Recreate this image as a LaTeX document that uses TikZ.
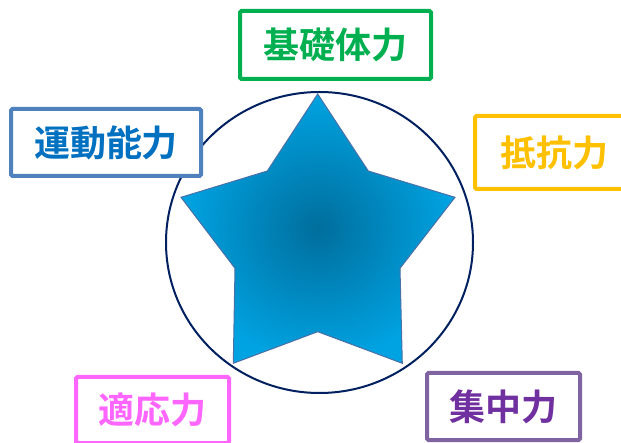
\documentclass[tikz,border=0pt]{standalone}
\usepackage{fontspec}
\newfontfamily\jpfont{Noto Sans CJK JP Bold}
\definecolor{cgreen}{HTML}{00B050}
\definecolor{cbluebox}{HTML}{4F81BD}
\definecolor{cbluetext}{HTML}{0070C0}
\definecolor{cyellow}{HTML}{FFC000}
\definecolor{cpink}{HTML}{FF66FF}
\definecolor{cpurplebox}{HTML}{8064A2}
\definecolor{cpurpletext}{HTML}{7030A0}
\definecolor{cnavy}{HTML}{002060}
\definecolor{starin}{HTML}{006E9C}
\definecolor{starout}{HTML}{00A3E2}
\definecolor{staredge}{HTML}{4A70A8}
\begin{document}
\begin{tikzpicture}[x=1pt,y=-1pt,
  lbl/.style={draw, line width=4pt, rounded corners=1.5pt, fill=white,
    inner sep=0pt, font=\jpfont\fontsize{36}{40}\selectfont},
]
\useasboundingbox (0,0) rectangle (621,443);
\clip (0,0) rectangle (621,443);
% circle
\draw[cnavy, line width=2pt] (319.5,242.5) ellipse [x radius=153.5pt, y radius=150.5pt];
% star
\shade[inner color=starin, outer color=starout, draw=staredge, line width=1pt]
  (317.7,94) -- (368.3,171) -- (455,197.3) -- (400,268.3) -- (402.3,363.3)
  -- (317.7,331.7) -- (233.3,363.3) -- (235,268.3) -- (181,197.3) -- (267.3,171) -- cycle;
% labels
\node[lbl, draw=cgreen, text=cgreen, minimum width=191pt, minimum height=68pt] (kiso) at (335.5,45) {基礎体力};
\node[lbl, draw=cbluebox, text=cbluetext, minimum width=190pt, minimum height=67pt] (undo) at (106,142.5) {運動能力};
\node[lbl, draw=cyellow, text=cyellow, minimum width=158pt, minimum height=73pt] (teiko) at (554,152.5) {抵抗力};
\node[lbl, draw=cpink, text=cpink, minimum width=153pt, minimum height=66pt] (tekio) at (152.5,410) {適応力};
\node[lbl, draw=cpurplebox, text=cpurpletext, minimum width=153pt, minimum height=67pt] (shuchu) at (503.5,406.5) {集中力};
\end{tikzpicture}
\end{document}
